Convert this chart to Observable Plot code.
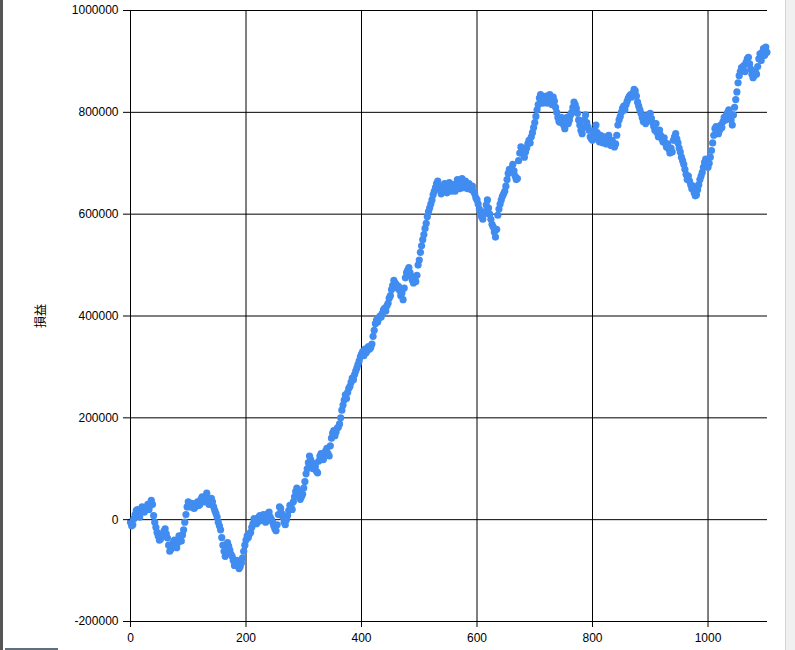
<!DOCTYPE html>
<html>
<head>
<meta charset="utf-8">
<script src="https://cdn.jsdelivr.net/npm/d3@7"></script>
<script src="https://cdn.jsdelivr.net/npm/@observablehq/plot@0.6"></script>
<style>
  html, body { margin: 0; padding: 0; background: #fff; }
  #wrap { position: relative; width: 795px; height: 650px; overflow: hidden; }
  #leftEdge { position: absolute; left: 0; top: 0; width: 3px; height: 650px; background: #555; }
  #rightEdge { position: absolute; left: 785px; top: 0; width: 10px; height: 650px; background: #f0f0f0; border-left: 1px solid #d4d4d4; box-sizing: border-box; }
  #bottomBar { position: absolute; left: 5px; top: 648px; width: 53px; height: 2px; background: #5f6f7c; }
</style>
</head>
<body>
<div id="wrap"></div>
<script>
// P/L (損益) per trade, in thousands, one value every 2 trades (trade 0, 2, 4, ...)
const tradeStep = 2;
const pnlThousands = [
  -5, -12, -10, 2, 10, 18, 20, 12, 5, 15,
  25, 18, 15, 22, 25, 30, 20, 28, 38, 30,
  8, -5, -15, -25, -32, -40, -38, -30, -28, -22,
  -18, -28, -36, -50, -62, -58, -52, -45, -40, -50,
  -55, -45, -32, -38, -42, -30, -20, -5, 10, 25,
  35, 30, 25, 32, 30, 22, 25, 30, 35, 28,
  30, 40, 45, 38, 35, 45, 52, 40, 30, 38,
  42, 35, 25, 18, 12, 5, -5, -12, -20, -35,
  -50, -62, -72, -60, -45, -52, -60, -68, -72, -80,
  -90, -85, -80, -88, -96, -92, -85, -75, -62, -50,
  -40, -32, -35, -28, -25, -15, -8, 2, 0, -8,
  -5, 5, 8, -2, 0, 10, 5, -5, 2, 12,
  15, 5, 0, -5, -12, -18, -22, -10, 10, 25,
  22, 12, 5, -5, -10, 0, 8, 18, 28, 25,
  20, 35, 45, 55, 62, 58, 48, 40, 45, 50,
  62, 75, 90, 100, 112, 125, 118, 108, 100, 110,
  105, 95, 92, 115, 125, 130, 122, 118, 128, 135,
  140, 130, 125, 145, 160, 170, 175, 165, 172, 180,
  182, 188, 200, 215, 225, 235, 245, 238, 250, 258,
  262, 270, 278, 275, 285, 292, 298, 305, 312, 320,
  325, 330, 322, 335, 328, 332, 340, 335, 338, 345,
  360, 372, 385, 392, 388, 395, 400, 398, 405, 412,
  415, 410, 420, 425, 435, 440, 452, 460, 470, 465,
  462, 455, 458, 450, 440, 445, 432, 455, 475, 485,
  490, 495, 485, 478, 470, 465, 475, 468, 480, 500,
  510, 525, 538, 550, 560, 572, 582, 595, 605, 612,
  620, 628, 638, 645, 652, 660, 665, 655, 648, 640,
  655, 648, 660, 652, 642, 655, 662, 650, 645, 658,
  652, 645, 660, 668, 655, 650, 662, 670, 660, 652,
  665, 658, 650, 660, 655, 648, 655, 645, 640, 632,
  628, 620, 610, 600, 595, 590, 600, 605, 618, 628,
  612, 600, 590, 580, 575, 565, 555, 570, 598, 610,
  620, 628, 635, 640, 645, 655, 668, 680, 688, 682,
  690, 698, 685, 675, 668, 670, 705, 720, 732, 725,
  718, 712, 722, 730, 738, 745, 740, 752, 760, 770,
  780, 792, 805, 815, 828, 835, 825, 818, 830, 822,
  832, 818, 825, 835, 828, 815, 830, 822, 810, 800,
  790, 782, 780, 790, 785, 775, 768, 780, 790, 778,
  785, 795, 800, 810, 820, 815, 808, 798, 785, 775,
  765, 758, 770, 785, 795, 780, 772, 765, 752, 748,
  745, 755, 765, 775, 760, 750, 742, 755, 748, 740,
  752, 745, 738, 748, 755, 742, 735, 745, 740, 732,
  738, 755, 775, 785, 792, 800, 808, 812, 805, 815,
  822, 828, 832, 835, 830, 838, 845, 842, 832, 820,
  812, 805, 798, 790, 782, 790, 778, 785, 795, 790,
  798, 788, 780, 772, 765, 778, 760, 752, 765, 755,
  748, 742, 750, 740, 732, 738, 728, 720, 730, 722,
  745, 752, 758, 748, 740, 730, 722, 712, 705, 698,
  688, 678, 668, 675, 665, 658, 650, 655, 642, 636,
  638, 648, 658, 668, 675, 682, 692, 702, 708, 698,
  692, 700, 712, 725, 740, 755, 768, 772, 762, 758,
  765, 775, 770, 782, 790, 785, 795, 800, 805, 798,
  785, 775, 795, 810, 825, 840, 858, 872, 880, 888,
  885, 892, 880, 898, 905, 908, 895, 885, 875, 868,
  872, 880, 875, 890, 905, 915, 902, 918, 925, 912,
  928, 918
];
const xTicks = [0, 200, 400, 600, 800, 1000];
const yTicks = [-200000, 0, 200000, 400000, 600000, 800000, 1000000];
const xDomain = [0, 1103];
const yDomain = [-200000, 1000000];
const yLabel = "損益";

const data = pnlThousands.map((v, i) => ({ trade: i * tradeStep, pnl: v * 1000 }));

const chart = Plot.plot({
  width: 795,
  height: 650,
  marginLeft: 130,
  marginRight: 28,
  marginTop: 10,
  marginBottom: 29,
  style: {
    fontFamily: "'Liberation Sans', Arial, sans-serif",
    fontSize: "12px",
    color: "#000",
    background: "transparent",
    overflow: "visible"
  },
  x: { domain: xDomain },
  y: { domain: yDomain },
  marks: [
    Plot.ruleY(yTicks, { stroke: "#000", strokeWidth: 1 }),
    Plot.ruleX(xTicks, { stroke: "#000", strokeWidth: 1 }),
    Plot.dot(data, { x: "trade", y: "pnl", r: 3.6, fill: "#418CF0", stroke: "none" }),
    Plot.axisY({ ticks: yTicks, tickSize: 7, tickPadding: 5, tickFormat: d => String(d), label: null, fontSize: 12 }),
    Plot.axisX({ ticks: xTicks, tickSize: 6, tickPadding: 6, tickFormat: d => String(d), label: null, fontSize: 12 })
  ]
});

const wrap = document.getElementById("wrap");
chart.style.position = "absolute";
chart.style.left = "0px";
chart.style.top = "0px";
wrap.appendChild(chart);

d3.select(chart).append("text")
  .attr("transform", "translate(45,316) rotate(-90)")
  .attr("text-anchor", "middle")
  .attr("font-family", "'Noto Sans CJK JP', sans-serif")
  .attr("font-size", 12)
  .attr("fill", "#000")
  .text(yLabel);

for (const id of ["leftEdge", "rightEdge", "bottomBar"]) {
  const d = document.createElement("div");
  d.id = id;
  wrap.appendChild(d);
}
</script>
</body>
</html>
